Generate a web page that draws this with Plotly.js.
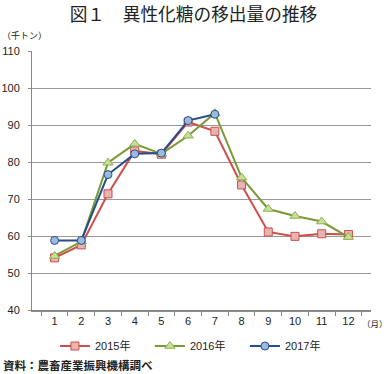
<!DOCTYPE html>
<html><head><meta charset="utf-8">
<script src="https://cdn.plot.ly/plotly-3.0.1.min.js"></script>
<style>html,body{margin:0;padding:0;background:#fff;}#chart{width:387px;height:374px;}</style>
</head><body><div id="chart"></div>
<script>
const months = ['1','2','3','4','5','6','7','8','9','10','11','12'];
const s2015 = [54.1, 57.6, 71.4, 83.0, 82.1, 90.8, 88.3, 73.8, 61.1, 59.9, 60.6, 60.4];
const s2016 = [54.6, 58.5, 79.8, 84.9, 82.2, 87.1, 93.2, 75.8, 67.3, 65.4, 63.9, 59.7];
const s2017 = [58.8, 58.8, 76.6, 82.2, 82.4, 91.2, 92.9];
const names = ['2015年','2016年','2017年'];
const yTicks = [40,50,60,70,80,90,100,110];

const traces = [
  {x: months, y: s2015, name: names[0], mode:'lines+markers', type:'scatter',
   line:{color:'#CC4F4C', width:2},
   marker:{symbol:'square', size:8, color:'#E8B4B2', line:{color:'#CC4F4C', width:1}}},
  {x: months, y: s2016, name: names[1], mode:'lines+markers', type:'scatter',
   line:{color:'#789A34', width:2},
   marker:{symbol:'triangle-up', size:9, color:'#C9DE9A', line:{color:'#8DB04A', width:1}}},
  {x: months.slice(0, s2017.length), y: s2017, name: names[2], mode:'lines+markers', type:'scatter',
   line:{color:'#264C8C', width:2},
   marker:{symbol:'circle', size:8, color:'#9DB9DE', line:{color:'#264C8C', width:1}}}
];

const fontFam = 'Liberation Sans, Arial, "Noto Sans CJK JP", sans-serif';
const layout = {
  width:387, height:374,
  margin:{l:32, r:16, t:51, b:64, autoexpand:false},
  paper_bgcolor:'#fff', plot_bgcolor:'#fff',
  font:{family:fontFam, size:11, color:'#222'},
  title:{text:'図１　異性化糖の移出量の推移', x:0.5, xref:'container', xanchor:'center',
         y:1-14.5/374, yref:'container', yanchor:'middle',
         font:{family:'"Noto Sans CJK JP", sans-serif', size:17.7, color:'#222'}},
  showlegend:true,
  legend:{orientation:'h', x:0.488, xanchor:'center', y:-36/259, yanchor:'middle',
          itemwidth:30, entrywidth:50, entrywidthmode:'pixels', font:{size:11, family:fontFam}},
  xaxis:{type:'category', tickson:'boundaries', ticks:'outside', ticklen:4, tickcolor:'#888',
         showgrid:false, showline:true, linecolor:'#888', linewidth:2, zeroline:false,
         tickfont:{size:11}, automargin:false},
  yaxis:{range:[40,110], tickvals:yTicks, ticks:'outside', ticklen:3, tickcolor:'#888',
         showgrid:true, gridcolor:'#999', gridwidth:1, showline:true, linecolor:'#888', linewidth:1,
         zeroline:false, ticklabelstandoff:6, tickfont:{size:11}, automargin:false},
  annotations:[
    {text:'（千トン）', xref:'paper', yref:'paper', x:(0-32)/339, y:(310-36)/259, xanchor:'left', yanchor:'middle',
     showarrow:false, font:{size:9, family:'"Noto Sans CJK JP", sans-serif'}},
    {text:'（月）', xref:'paper', yref:'paper', x:(360-32)/339, y:(310-323)/259, xanchor:'left', yanchor:'middle',
     showarrow:false, font:{size:8.5, family:'"Noto Sans CJK JP", sans-serif'}},
    {text:'<b>資料：農畜産業振興機構調べ</b>', xref:'paper', yref:'paper', x:(1-32)/339, y:(310-365)/259, xanchor:'left', yanchor:'middle',
     showarrow:false, font:{size:11.5, family:'"Noto Sans CJK JP", sans-serif'}}
  ]
};
Plotly.newPlot('chart', traces, layout, {displayModeBar:false, staticPlot:true});
</script></body></html>
